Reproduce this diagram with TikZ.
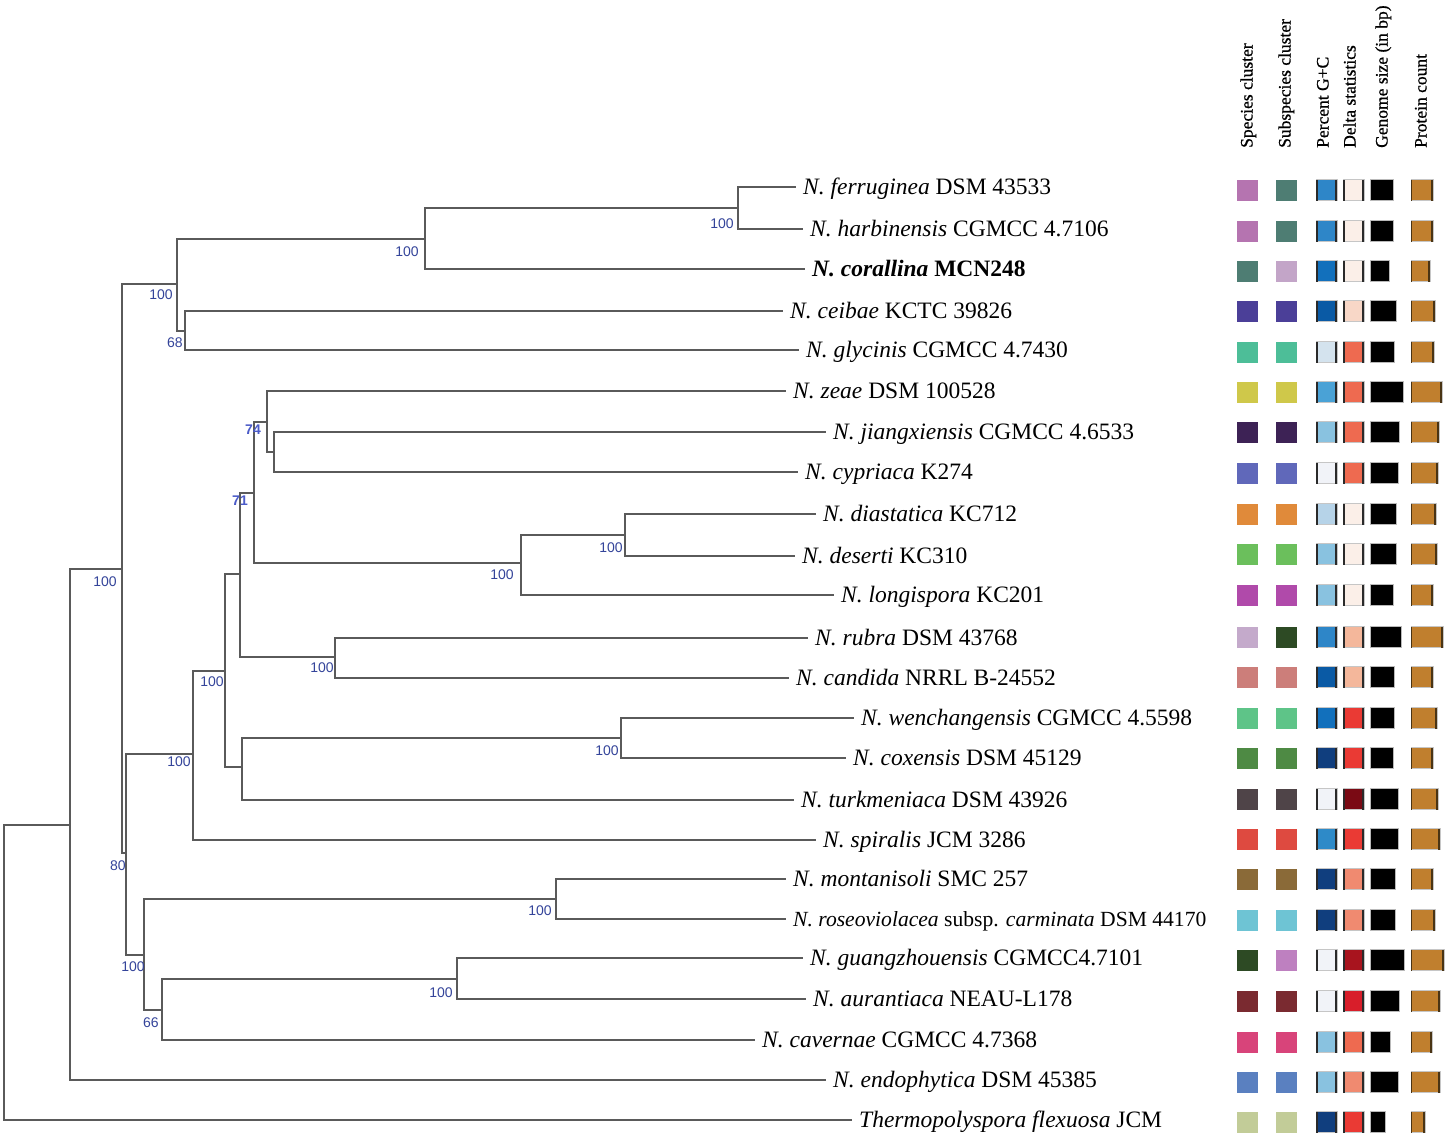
\documentclass[tikz,border=0pt]{standalone}
\usepackage{fontspec}
\usepackage{graphicx}
\setmainfont{Liberation Serif}
\newfontfamily\labfont{Liberation Sans}
\newfontfamily\hdrfont[FakeBold=0.7]{Liberation Serif}
\definecolor{treegray}{HTML}{5A5A5A}
\definecolor{bsblue}{HTML}{34449A}
\definecolor{bsblue2}{HTML}{4B5BC8}
\definecolor{edgec}{HTML}{2A2A2A}
\definecolor{protc}{HTML}{C07F2E}
\definecolor{protedge}{HTML}{4A3414}
\newcommand\rowb[7]{%
 \definecolor{ca}{HTML}{#2}\definecolor{cb}{HTML}{#3}\definecolor{cc}{HTML}{#4}\definecolor{cd}{HTML}{#5}%
 \fill[ca] (1237,#1-10.5) rectangle (1258,#1+10.5);
 \fill[cb] (1276,#1-10.5) rectangle (1297,#1+10.5);
 \filldraw[fill=cc, draw=gray!45, line width=0.6pt] (1316,#1-10.5) rectangle (1337,#1+10.5);
 \draw[line width=1.6pt, edgec] (1316.8,#1-10.5) -- (1316.8,#1+10.5) (1336,#1-10.5) -- (1336,#1+10.5);
 \filldraw[fill=cd, draw=gray!45, line width=0.6pt] (1343,#1-10.5) rectangle (1364,#1+10.5);
 \draw[line width=1.6pt, edgec] (1343.8,#1-10.5) -- (1343.8,#1+10.5) (1363,#1-10.5) -- (1363,#1+10.5);
 \filldraw[fill=black, draw=gray!55, line width=0.6pt] (1370,#1-10.5) rectangle (#6,#1+10.5);
 \filldraw[fill=protc, draw=gray!45, line width=0.6pt] (1411,#1-10.5) rectangle (#7,#1+10.5);
 \draw[line width=1.8pt, protedge] (#7-1,#1-10.5) -- (#7-1,#1+10.5);
 \draw[line width=0.8pt, protedge] (1411.4,#1-10.5) -- (1411.4,#1+10.5);
}
\begin{document}
\begin{tikzpicture}[x=1pt,y=-1pt,
  br/.style={line width=2.6pt, draw=treegray, line cap=rect},
  leaf/.style={anchor=west, inner sep=0pt, font=\fontsize{23.5}{26}\selectfont, text height=19pt, text depth=3.5pt},
  hdr/.style={rotate=90, anchor=west, inner sep=0pt, font=\hdrfont\fontsize{17.5}{20}\selectfont, text height=12.5pt, text depth=3.5pt},
  bs/.style={inner sep=0pt, font=\labfont\fontsize{14}{16}\selectfont, text=bsblue},
  bsb/.style={inner sep=0pt, font=\labfont\bfseries\fontsize{14}{16}\selectfont, text=bsblue2}]
\useasboundingbox[fill=white] (0,0) rectangle (1446,1137);

% headers
\node[hdr] (h1) at (1248,148) {Species cluster};
\node[hdr] (h2) at (1286,148) {Subspecies cluster};
\node[hdr] (h3) at (1324,148) {Percent G+C};
\node[hdr] (h4) at (1351,148) {Delta statistics};
\node[hdr] (h5) at (1383,148) {Genome size (in bp)};
\node[hdr] (h6) at (1422,148) {Protein count};

% leaves
\node[leaf] (l1) at (803,187) {\textit{N. ferruginea} DSM 43533};
\node[leaf] (l2) at (810,229) {\textit{N. harbinensis} CGMCC 4.7106};
\node[leaf] (l3) at (812,269) {\textbf{\textit{N. corallina} MCN248}};
\node[leaf] (l4) at (790,311) {\textit{N. ceibae} KCTC 39826};
\node[leaf] (l5) at (806,350) {\textit{N. glycinis} CGMCC 4.7430};
\node[leaf] (l6) at (793,391) {\textit{N. zeae} DSM 100528};
\node[leaf] (l7) at (833,432) {\textit{N. jiangxiensis} CGMCC 4.6533};
\node[leaf] (l8) at (805,472) {\textit{N. cypriaca} K274};
\node[leaf] (l9) at (823,514) {\textit{N. diastatica} KC712};
\node[leaf] (l10) at (802,556) {\textit{N. deserti} KC310};
\node[leaf] (l11) at (841,595) {\textit{N. longispora} KC201};
\node[leaf] (l12) at (815,638) {\textit{N. rubra} DSM 43768};
\node[leaf] (l13) at (796,678) {\textit{N. candida} NRRL B-24552};
\node[leaf] (l14) at (861,718) {\textit{N. wenchangensis} CGMCC 4.5598};
\node[leaf] (l15) at (853,758) {\textit{N. coxensis} DSM 45129};
\node[leaf] (l16) at (801,800) {\textit{N. turkmeniaca} DSM 43926};
\node[leaf] (l17) at (823,840) {\textit{N. spiralis} JCM 3286};
\node[leaf] (l18) at (793,879) {\textit{N. montanisoli} SMC 257};
\node[leaf, font=\fontsize{21.6}{24}\selectfont] (l19) at (793,919) {\textit{N. roseoviolacea} subsp. \textit{carminata} DSM 44170};
\node[leaf] (l20) at (810,958) {\textit{N. guangzhouensis} CGMCC4.7101};
\node[leaf] (l21) at (813,999) {\textit{N. aurantiaca} NEAU-L178};
\node[leaf] (l22) at (762,1040) {\textit{N. cavernae} CGMCC 4.7368};
\node[leaf] (l23) at (833,1080) {\textit{N. endophytica} DSM 45385};
\node[leaf] (l24) at (859,1120) {\textit{Thermopolyspora flexuosa} JCM};

% internal nodes
\coordinate (A) at (738,208);
\coordinate (B) at (425,239);
\coordinate (C) at (185,331);
\coordinate (D) at (177,284);
\coordinate (E) at (122,569);
\coordinate (F) at (274,452);
\coordinate (G) at (267,422);
\coordinate (H) at (254,493);
\coordinate (I) at (625,535);
\coordinate (J) at (521,563);
\coordinate (K) at (240,574);
\coordinate (L) at (335,657);
\coordinate (M) at (225,671);
\coordinate (N) at (621,738);
\coordinate (O) at (242,767);
\coordinate (P) at (193,754);
\coordinate (Q) at (126,853);
\coordinate (S) at (144,955);
\coordinate (T) at (556,899);
\coordinate (U) at (457,979);
\coordinate (V) at (162,1010);
\coordinate (R) at (70,825);
\coordinate (Z) at (4,972);

% branches
\draw[br] (A) |- ([xshift=-8pt]l1.west);
\draw[br] (A) |- ([xshift=-8pt]l2.west);
\draw[br] (B) |- (A);
\draw[br] (B) |- ([xshift=-8pt]l3.west);
\draw[br] (C) |- ([xshift=-8pt]l4.west);
\draw[br] (C) |- ([xshift=-8pt]l5.west);
\draw[br] (D) |- (B);
\draw[br] (D) |- (C);
\draw[br] (E) |- (D);
\draw[br] (E) |- (Q);
\draw[br] (F) |- ([xshift=-8pt]l7.west);
\draw[br] (F) |- ([xshift=-8pt]l8.west);
\draw[br] (G) |- ([xshift=-8pt]l6.west);
\draw[br] (G) |- (F);
\draw[br] (I) |- ([xshift=-8pt]l9.west);
\draw[br] (I) |- ([xshift=-8pt]l10.west);
\draw[br] (J) |- (I);
\draw[br] (J) |- ([xshift=-8pt]l11.west);
\draw[br] (H) |- (G);
\draw[br] (H) |- (J);
\draw[br] (L) |- ([xshift=-8pt]l12.west);
\draw[br] (L) |- ([xshift=-8pt]l13.west);
\draw[br] (K) |- (H);
\draw[br] (K) |- (L);
\draw[br] (N) |- ([xshift=-8pt]l14.west);
\draw[br] (N) |- ([xshift=-8pt]l15.west);
\draw[br] (O) |- (N);
\draw[br] (O) |- ([xshift=-8pt]l16.west);
\draw[br] (M) |- (K);
\draw[br] (M) |- (O);
\draw[br] (P) |- (M);
\draw[br] (P) |- ([xshift=-8pt]l17.west);
\draw[br] (T) |- ([xshift=-8pt]l18.west);
\draw[br] (T) |- ([xshift=-8pt]l19.west);
\draw[br] (U) |- ([xshift=-8pt]l20.west);
\draw[br] (U) |- ([xshift=-8pt]l21.west);
\draw[br] (V) |- (U);
\draw[br] (V) |- ([xshift=-8pt]l22.west);
\draw[br] (S) |- (T);
\draw[br] (S) |- (V);
\draw[br] (Q) |- (P);
\draw[br] (Q) |- (S);
\draw[br] (R) |- (E);
\draw[br] (R) |- ([xshift=-8pt]l23.west);
\draw[br] (Z) |- (R);
\draw[br] (Z) |- ([xshift=-8pt]l24.west);

% bootstrap labels
\node[bs] (bA) at (722,224) {100};
\node[bs] (bB) at (407,252) {100};
\node[bs] (bD) at (161,295) {100};
\node[bs] (bC) at (175,343) {68};
\node[bsb] (bG) at (253,430) {74};
\node[bsb] (bH) at (240,501) {71};
\node[bs] (bE) at (105,582) {100};
\node[bs] (bI) at (611,548) {100};
\node[bs] (bJ) at (502,575) {100};
\node[bs] (bL) at (322,668) {100};
\node[bs] (bM) at (212,682) {100};
\node[bs] (bN) at (607,751) {100};
\node[bs] (bP) at (179,762) {100};
\node[bs] (bQ) at (118,866) {80};
\node[bs] (bT) at (540,911) {100};
\node[bs] (bS) at (133,967) {100};
\node[bs] (bU) at (441,993) {100};
\node[bs] (bV) at (151,1023) {66};

% colour boxes
\rowb{190}{B574B0}{4E7D73}{2E86C8}{FBEFE8}{1393}{1433}
\rowb{231}{B574B0}{4E7D73}{2E86C8}{FBEFE8}{1393}{1433}
\rowb{271}{4E7D73}{C3A5C8}{1270BC}{FBEFE8}{1389}{1430}
\rowb{311}{4B3F98}{4B3F98}{0A5AA5}{F8D7C7}{1396}{1435}
\rowb{352}{4DBE98}{4DBE98}{D4E3EE}{EE6A50}{1394}{1434}
\rowb{392}{CFC84A}{CFC84A}{4AA2D6}{EE6A50}{1403}{1442}
\rowb{432}{3D2255}{3D2255}{89C2E0}{EE6A50}{1399}{1439}
\rowb{473}{6068BA}{6068BA}{F1F3F8}{EE6A50}{1398}{1438}
\rowb{514}{E08A3A}{E08A3A}{B6D3E8}{FBEFE8}{1396}{1436}
\rowb{554}{6BBF5C}{6BBF5C}{89C2E0}{FBEFE8}{1396}{1437}
\rowb{595}{B04AAA}{B04AAA}{89C2E0}{FBEFE8}{1393}{1433}
\rowb{637}{C4AACB}{2D4A24}{2E86C8}{F4B79B}{1401}{1443}
\rowb{677}{CC7E7A}{CC7E7A}{0A5AA5}{F4B79B}{1394}{1433}
\rowb{718}{5EC488}{5EC488}{1270BC}{EA3A34}{1394}{1437}
\rowb{758}{4E8A44}{4E8A44}{103E7E}{EA3A34}{1393}{1433}
\rowb{799}{4F4448}{4F4448}{F1F3F8}{7A0A14}{1398}{1438}
\rowb{839}{DE4A40}{DE4A40}{2E8AC8}{EA3A34}{1398}{1440}
\rowb{879}{8A6A38}{8A6A38}{103E7E}{F08A70}{1395}{1433}
\rowb{920}{6EC4D4}{6EC4D4}{103E7E}{F08A70}{1395}{1435}
\rowb{960}{2D4A24}{BE80C0}{F1F3F8}{A8141E}{1404}{1444}
\rowb{1001}{7A2A30}{7A2A30}{F1F3F8}{D81E2A}{1399}{1440}
\rowb{1042}{D8447A}{D8447A}{89C2E0}{EE6A50}{1390}{1432}
\rowb{1082}{5A80C0}{5A80C0}{89C2E0}{F08A70}{1398}{1440}
\rowb{1122}{C2CC98}{C2CC98}{103E7E}{EA3A34}{1385}{1425}
\end{tikzpicture}
\end{document}
